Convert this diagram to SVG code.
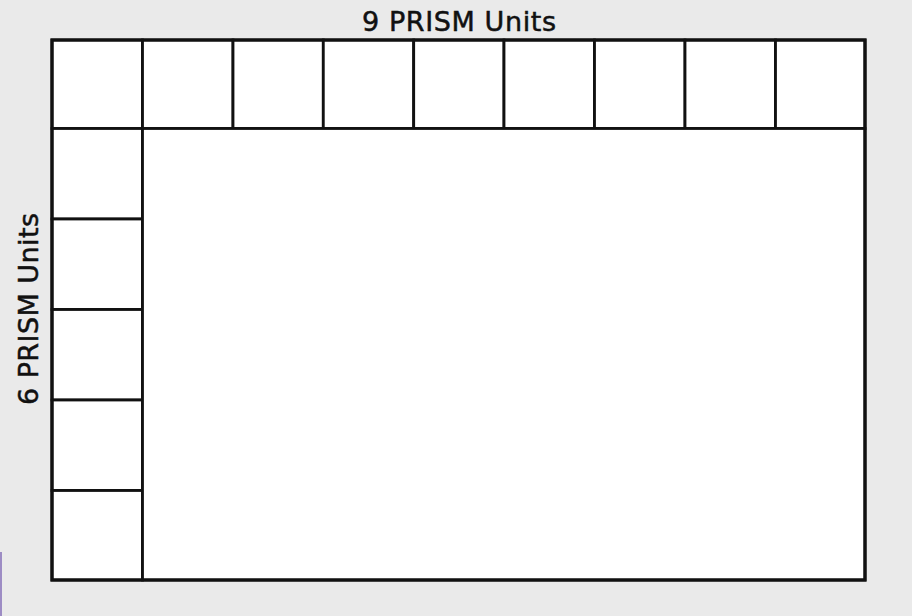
<svg xmlns="http://www.w3.org/2000/svg" width="912" height="616" viewBox="0 0 912 616">
<style>
.cell{fill:#ffffff;stroke:#111111;stroke-width:2.8}
.outer{fill:none;stroke:#111111;stroke-width:3.2}
.lbl{font-family:"DejaVu Sans","Liberation Sans",sans-serif;font-size:27px;fill:#111111;stroke:#111111;stroke-width:0.5}
</style>
<rect x="0" y="0" width="912" height="616" fill="#eaeaea"/>
<rect x="0" y="552" width="2" height="64" fill="#9d8cc4"/>
<g id="top-row">
<g id="t1"><rect class="cell" x="52" y="40" width="90.5" height="88.5"/></g>
<g id="t2"><rect class="cell" x="142.5" y="40" width="90.5" height="88.5"/></g>
<g id="t3"><rect class="cell" x="233" y="40" width="90.3" height="88.5"/></g>
<g id="t4"><rect class="cell" x="323.3" y="40" width="90.4" height="88.5"/></g>
<g id="t5"><rect class="cell" x="413.7" y="40" width="90.3" height="88.5"/></g>
<g id="t6"><rect class="cell" x="504" y="40" width="90.5" height="88.5"/></g>
<g id="t7"><rect class="cell" x="594.5" y="40" width="90.5" height="88.5"/></g>
<g id="t8"><rect class="cell" x="685" y="40" width="90.5" height="88.5"/></g>
<g id="t9"><rect class="cell" x="775.5" y="40" width="89.5" height="88.5"/></g>
</g>
<g id="left-column">
<g id="l2"><rect class="cell" x="52" y="128.5" width="90.5" height="90.5"/></g>
<g id="l3"><rect class="cell" x="52" y="219" width="90.5" height="90.5"/></g>
<g id="l4"><rect class="cell" x="52" y="309.5" width="90.5" height="90.5"/></g>
<g id="l5"><rect class="cell" x="52" y="400" width="90.5" height="90.5"/></g>
<g id="l6"><rect class="cell" x="52" y="490.5" width="90.5" height="89.5"/></g>
</g>
<g id="area"><rect class="cell" x="142.5" y="128.5" width="722.5" height="451.5"/></g>
<g id="frame"><rect class="outer" x="52" y="40" width="813" height="540"/></g>
<g id="connectors"></g>
<g id="labels">
<text class="lbl" x="459" y="31" text-anchor="middle" textLength="194" lengthAdjust="spacing">9 PRISM Units</text>
<text class="lbl" transform="translate(37.5,309) rotate(-90)" x="0" y="0" text-anchor="middle" textLength="192" lengthAdjust="spacing">6 PRISM Units</text>
</g>
</svg>
